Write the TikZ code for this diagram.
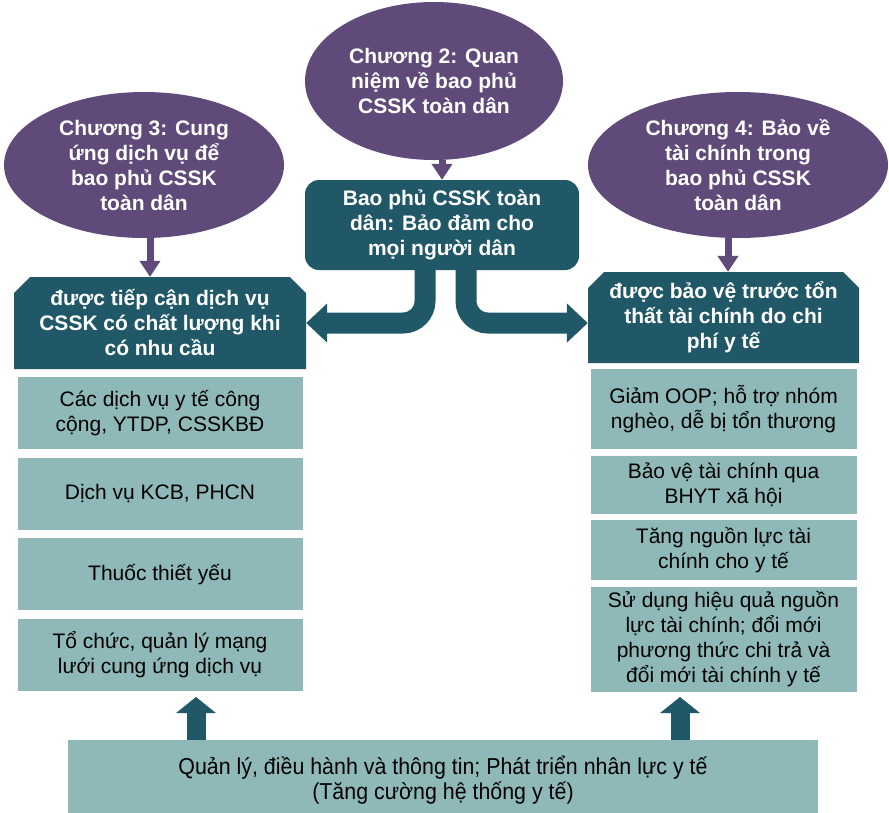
\documentclass[tikz,border=0pt]{standalone}
\usepackage{fontspec}
\setmainfont{Liberation Sans}
\newfontfamily\narrowfont[FakeStretch=0.93]{Liberation Sans}
\usetikzlibrary{arrows.meta}
\usetikzlibrary{positioning}
\usetikzlibrary{shapes.geometric}
\usetikzlibrary{shapes.misc}

\definecolor{chapviolet}{RGB}{95,74,122}
\definecolor{headteal}{RGB}{33,88,103}
\definecolor{boxteal}{RGB}{143,185,185}

\tikzset{
  chap/.style={ellipse, fill=chapviolet, text=white, align=center, inner sep=0pt,
    font=\fontsize{21}{25}\selectfont\bfseries},
  core/.style={rectangle, rounded corners=14pt, fill=headteal, text=white, align=center,
    font=\fontsize{21}{25}\selectfont\bfseries},
  head/.style={chamfered rectangle, chamfered rectangle corners={north west,north east},
    chamfered rectangle xsep=11pt, chamfered rectangle ysep=5pt,
    fill=headteal, text=white, align=center, inner sep=0pt,
    font=\fontsize{21}{25}\selectfont\bfseries},
  item/.style={rectangle, fill=boxteal, text=black, align=center, inner sep=2pt,
    font=\fontsize{21}{25}\selectfont},
  feed/.style={draw=chapviolet, line width=7pt, -{Triangle[length=16pt,width=20pt]}},
  branch/.style={draw=headteal, line width=21pt, rounded corners=22pt,
    -{Triangle[length=21pt,width=38pt]}},
  lift/.style={draw=headteal, line width=19pt, -{Triangle[length=16pt,width=39pt]}}
}

\begin{document}
\begin{tikzpicture}[x=1pt, y=-1pt]
  \useasboundingbox (0,0) rectangle (889,812);

  % chapters
  \node[chap, minimum width=258pt, minimum height=158pt] (ch2) at (434,81) {Chương 2: Quan\\niệm về bao phủ\\CSSK toàn dân};
  \node[chap, minimum width=280pt, minimum height=146pt] (ch3) at (144,165) {Chương 3: Cung\\ứng dịch vụ để\\bao phủ CSSK\\toàn dân};
  \node[chap, minimum width=300pt, minimum height=146pt] (ch4) at (738,165) {Chương 4: Bảo về\\tài chính trong\\bao phủ CSSK\\toàn dân};

  % centre and the two headers
  \node[core, minimum width=274pt, minimum height=90pt] (cbox) at (442,225) {Bao phủ CSSK toàn\\dân: Bảo đảm cho\\mọi người dân};
  \node[head, minimum width=292pt, minimum height=92pt] (hl) at (160,323) {được tiếp cận dịch vụ\\CSSK có chất lượng khi\\có nhu cầu};
  \node[head, minimum width=271pt, minimum height=91pt] (hr) at (723.5,317.5) {được bảo vệ trước tổn\\thất tài chính do chi\\phí y tế};

  % left column
  \node[item, minimum width=285pt, minimum height=72pt] (l1) [below=8pt of hl] {Các dịch vụ y tế công\\cộng, YTDP, CSSKBĐ};
  \node[item, minimum width=285pt, minimum height=72pt] (l2) [below=8pt of l1] {Dịch vụ KCB, PHCN};
  \node[item, minimum width=285pt, minimum height=72pt] (l3) [below=8pt of l2] {Thuốc thiết yếu};
  \node[item, minimum width=285pt, minimum height=72pt] (l4) [below=8pt of l3] {Tổ chức, quản lý mạng\\lưới cung ứng dịch vụ};

  % right column
  \node[item, minimum width=266pt, minimum height=80pt] (r1) [below=6pt of hr] {Giảm OOP; hỗ trợ nhóm\\nghèo, dễ bị tổn thương};
  \node[item, minimum width=266pt, minimum height=58pt] (r2) [below=6pt of r1] {Bảo vệ tài chính qua\\BHYT xã hội};
  \node[item, minimum width=266pt, minimum height=60pt] (r3) [below=6pt of r2] {Tăng nguồn lực tài\\chính cho y tế};
  \node[item, minimum width=266pt, minimum height=105pt] (r4) [below=6pt of r3] {Sử dụng hiệu quả nguồn\\lực tài chính; đổi mới\\phương thức chi trả và\\đổi mới tài chính y tế};

  % base
  \node[item, minimum width=750pt, minimum height=80pt, font=\fontsize{23}{25}\selectfont\narrowfont] (bot) at (443,780) {Quản lý, điều hành và thông tin; Phát triển nhân lực y tế\\(Tăng cường hệ thống y tế)};
  \coordinate (upl) at (196,697);
  \coordinate (upr) at (680,697);

  % arrows
  \draw[feed] (ch2.south -| cbox.north) -- (cbox.north);
  \draw[feed] ([xshift=6pt]ch3.south) -- ([xshift=6pt]ch3.south |- hl.north);
  \draw[feed] ([xshift=-10pt]ch4.south) -- ([xshift=-10pt]ch4.south |- hr.north);
  \draw[branch] ([xshift=-17pt,yshift=2pt]cbox.south) |- (hl.east);
  \draw[branch] ([xshift=24pt,yshift=2pt]cbox.south) |- (hr.west |- hl.east);
  \draw[lift] (bot.north -| upl) -- (upl);
  \draw[lift] (bot.north -| upr) -- (upr);
\end{tikzpicture}
\end{document}
